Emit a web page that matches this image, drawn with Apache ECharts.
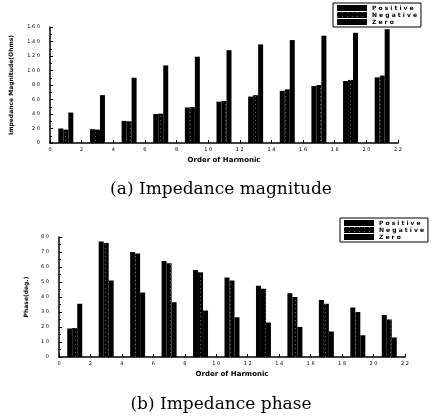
<!DOCTYPE html>
<html>
<head>
<meta charset="utf-8">
<script src="https://cdn.jsdelivr.net/npm/echarts@6/dist/echarts.min.js"></script>
<style>
  html, body { margin: 0; padding: 0; background: #fff; }
  #chart { width: 442px; height: 420px; }
</style>
</head>
<body>
<div id="chart"></div>
<script>
const harmonics = [1, 3, 5, 7, 9, 11, 13, 15, 17, 19, 21]
const seriesNames = ['Positive', 'Negative', 'Zero']

// impedance magnitude (Ohms)
const magPositive = [20, 19, 30.5, 40, 49, 57, 64, 72, 78.5, 85.5, 90.5]
const magNegative = [18.5, 18.5, 30, 40.5, 49.5, 58, 66, 74, 80, 87, 93]
const magZero = [42, 66, 90, 107, 119, 128, 136, 142, 148, 152, 157]

// impedance phase (deg.)
const phPositive = [19, 77, 70, 64, 58, 53, 47.5, 42.5, 38, 33, 28]
const phNegative = [19.3, 76, 69, 62.5, 56.5, 51, 45.5, 40, 35.5, 30, 25]
const phZero = [35.5, 51, 43, 36.5, 31, 26.5, 23, 20, 17, 14.5, 13]

const spaced = (v) => String(v).split('').join(' ')

const chart = echarts.init(document.getElementById('chart'))

// faint dotted hatch on the negative-sequence bars
const hatch = {
  color: 'rgba(255,255,255,0.4)',
  symbol: 'rect',
  symbolSize: 1,
  dashArrayX: [[1, 4]],
  dashArrayY: [1, 3],
  rotation: 0,
}

const barSeries = (name, values, axisIdx) => ({
  name,
  type: 'bar',
  xAxisIndex: axisIdx,
  yAxisIndex: axisIdx,
  barWidth: 5,
  barGap: '0%',
  data: harmonics.map((h, i) => [h, values[i]]),
  itemStyle: {
    color: '#000',
    decal: name === 'Negative' ? hatch : null,
  },
})

const xAxisBase = {
  type: 'value',
  min: 0,
  max: 22,
  interval: 2,
  name: 'Order of Harmonic',
  nameLocation: 'middle',
  nameGap: 14,
  nameTextStyle: { fontSize: 7, fontWeight: 'bold', color: '#000' },
  axisLine: { lineStyle: { color: '#000', width: 1.5 } },
  axisTick: { inside: true, length: 3, lineStyle: { color: '#000' } },
  minorTick: { show: true, splitNumber: 2, length: 2, lineStyle: { color: '#000' } },
  axisLabel: { fontSize: 5, color: '#000', margin: 4, formatter: spaced },
  splitLine: { show: false },
}

const yAxisBase = {
  type: 'value',
  min: 0,
  nameLocation: 'middle',
  nameTextStyle: { fontSize: 6, fontWeight: 'bold', color: '#000' },
  axisLine: { show: true, lineStyle: { color: '#000', width: 1.5 } },
  axisTick: { show: true, inside: true, length: 3, lineStyle: { color: '#000' } },
  minorTick: { show: true, splitNumber: 2, length: 2, lineStyle: { color: '#000' } },
  axisLabel: { fontSize: 5, color: '#000', margin: 10, formatter: spaced },
  splitLine: { show: false },
}

const legendBase = {
  orient: 'vertical',
  itemWidth: 30,
  itemHeight: 6,
  itemGap: 1,
  padding: [2, 4, 2, 4],
  borderColor: '#000',
  borderWidth: 1,
  icon: 'rect',
  textStyle: { fontSize: 6, fontWeight: 'bold', color: '#000' },
  formatter: spaced,
  data: seriesNames,
}

const captionStyle = { fontFamily: 'DejaVu Serif', fontSize: 17, fontWeight: 'normal', color: '#000' }

const option = {
  animation: false,
  backgroundColor: '#fff',
  textStyle: { fontFamily: 'DejaVu Sans' },
  title: [
    { text: '(a) Impedance magnitude', left: 'center', top: 176, textStyle: captionStyle },
    { text: '(b) Impedance phase', left: 'center', top: 391, textStyle: captionStyle },
  ],
  legend: [
    { ...legendBase, left: 333, top: 3 },
    { ...legendBase, left: 340, top: 218 },
  ],
  grid: [
    { left: 50, right: 44, top: 27, height: 116 },
    { left: 59, right: 37, top: 237, height: 120 },
  ],
  xAxis: [
    { ...xAxisBase, gridIndex: 0 },
    { ...xAxisBase, gridIndex: 1 },
  ],
  yAxis: [
    { ...yAxisBase, gridIndex: 0, max: 160, interval: 20, name: 'Impedance Magnitude(Ohms)', nameGap: 36 },
    { ...yAxisBase, gridIndex: 1, max: 80, interval: 10, name: 'Phase(deg.)', nameGap: 30 },
  ],
  series: [
    barSeries('Positive', magPositive, 0),
    barSeries('Negative', magNegative, 0),
    barSeries('Zero', magZero, 0),
    barSeries('Positive', phPositive, 1),
    barSeries('Negative', phNegative, 1),
    barSeries('Zero', phZero, 1),
  ],
}

chart.setOption(option)
</script>
</body>
</html>
